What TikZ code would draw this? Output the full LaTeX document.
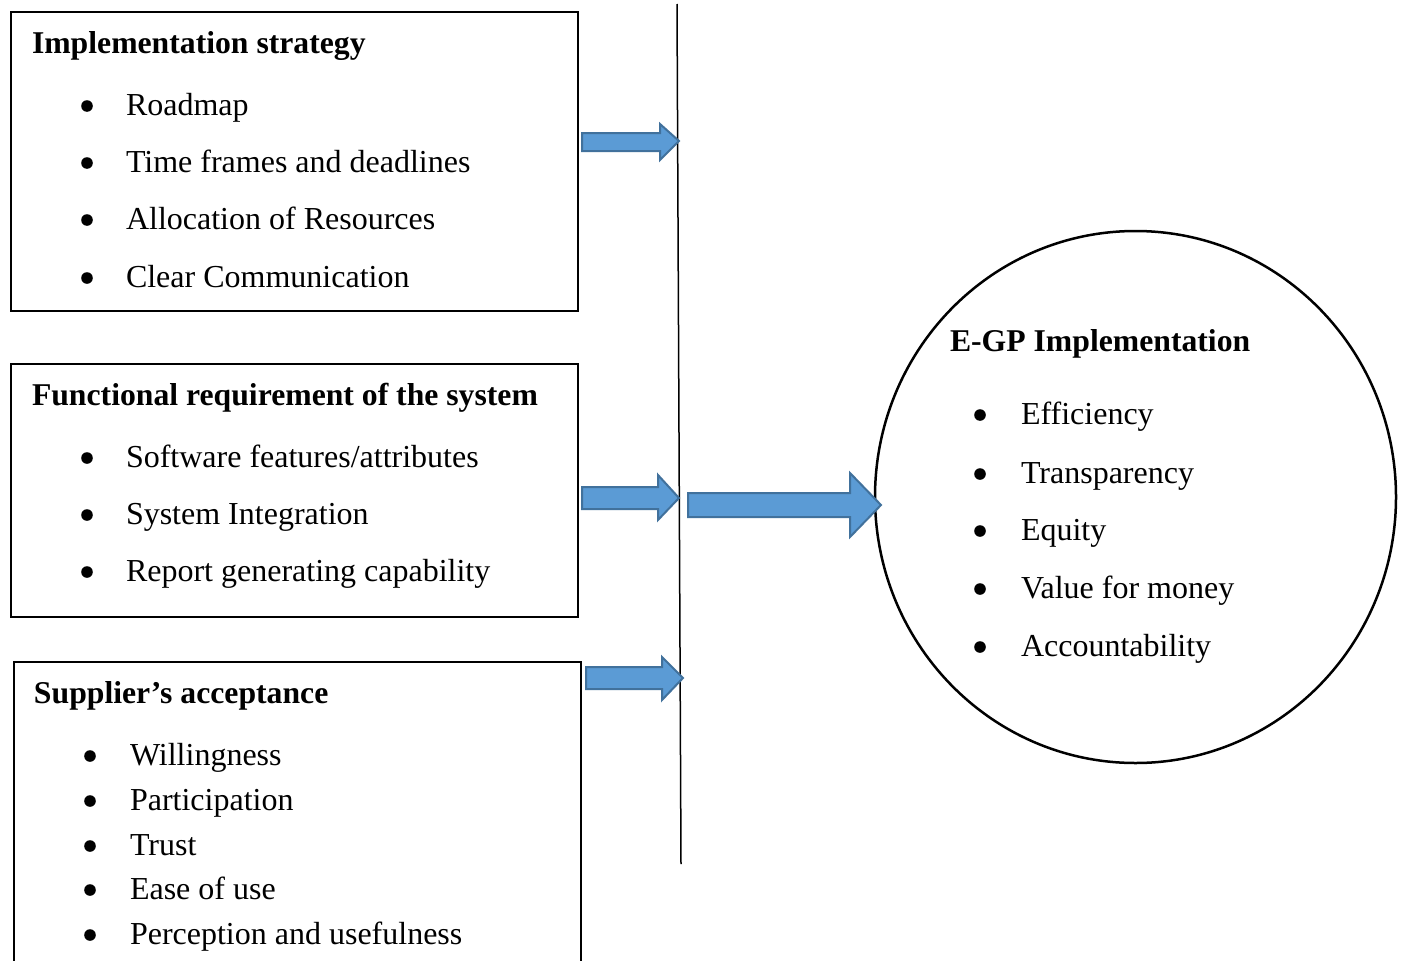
\documentclass[tikz,border=0pt]{standalone}
\usepackage{fontspec}
\setmainfont{Liberation Serif}
\usetikzlibrary{shapes.geometric}
\definecolor{arrowfill}{HTML}{5B9BD5}
\definecolor{arrowedge}{HTML}{41719C}
\begin{document}
\begin{tikzpicture}[x=1pt,y=-1pt,
  txt/.style={inner sep=0pt, outer sep=0pt, anchor=base west, font=\fontsize{32}{38}\selectfont},
  head/.style={txt, font=\fontsize{31.7}{38}\selectfont\bfseries},
  frame/.style={draw=black, line width=2pt},
  blockarrow/.style={fill=arrowfill, draw=arrowedge, line width=2pt, line join=miter},
]
\useasboundingbox[fill=white] (0,0) rectangle (1403,961);

% Implementation strategy
\draw[frame] (11,12) rectangle (578,311);
\node[head] (h1) at (32,53) {Implementation strategy};
\foreach \y/\t [count=\i] in {115/Roadmap, 172/Time frames and deadlines,
    229/Allocation of Resources, 287/Clear Communication} {
  \fill (87,\y-9) circle (5.8pt);
  \node[txt] (a\i) at (126,\y) {\t};
}

% Functional requirement of the system
\draw[frame] (11,364) rectangle (578,617);
\node[head] (h2) at (32,405) {Functional requirement of the system};
\foreach \y/\t [count=\i] in {467/{Software features/attributes}, 524/System Integration,
    581/Report generating capability} {
  \fill (87,\y-9) circle (5.8pt);
  \node[txt] (b\i) at (126,\y) {\t};
}

% Supplier's acceptance (box runs past the lower edge)
\draw[frame] (14,975) -- (14,662) -- (581,662) -- (581,975);
\node[head] (h3) at (34,703) {Supplier’s acceptance};
\foreach \y/\t [count=\i] in {765/Willingness, 810/Participation, 855/Trust,
    899/Ease of use, 944/Perception and usefulness} {
  \fill (90,\y-9) circle (5.8pt);
  \node[txt] (c\i) at (130,\y) {\t};
}

% Dividing line
\coordinate (lt) at (677,4);
\coordinate (lb) at (681,864);
\draw[line width=1.5pt] (lt) -- (lb);

% Outcome circle
\node[draw, line width=2.5pt, ellipse, minimum width=521pt, minimum height=532pt,
  inner sep=0pt] (egp) at (1135.5,497) {};
\node[head] (h4) at (950,351) {E-GP Implementation};
\foreach \y/\t [count=\i] in {424/Efficiency, 483/Transparency, 540/Equity,
    598/Value for money, 656/Accountability} {
  \fill (980,\y-9) circle (5.8pt);
  \node[txt] (d\i) at (1021,\y) {\t};
}

% Block arrows
\draw[blockarrow] (582,133) -- (660,133) -- (660,124) -- (679,141) -- (660,160)
  -- (660,151) -- (582,151) -- cycle;
\draw[blockarrow] (582,487) -- (658,487) -- (658,475) -- (679,498) -- (658,520)
  -- (658,509) -- (582,509) -- cycle;
\draw[blockarrow] (586,667) -- (662,667) -- (662,657) -- (683,678) -- (662,700)
  -- (662,689) -- (586,689) -- cycle;
\draw[blockarrow] (688,493) -- (850,493) -- (850,473) -- (881,505) -- (850,537)
  -- (850,517) -- (688,517) -- cycle;
\end{tikzpicture}
\end{document}
